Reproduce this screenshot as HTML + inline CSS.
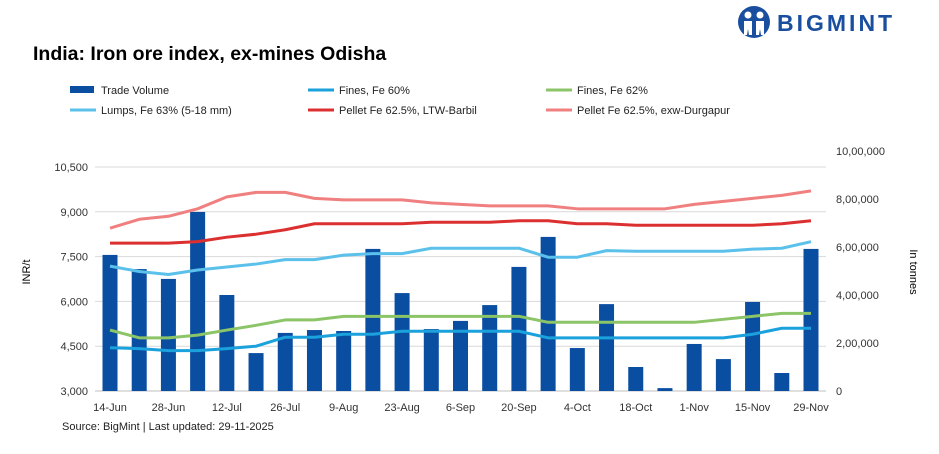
<!DOCTYPE html>
<html><head><meta charset="utf-8"><style>
body{margin:0;width:939px;height:454px;background:#fff;font-family:"Liberation Sans",sans-serif;overflow:hidden}
</style></head><body>
<svg width="939" height="454" style="position:absolute;left:0;top:0">
<g>
<circle cx="754" cy="22" r="16" fill="#1a4fa0"/>
<circle cx="748" cy="15" r="3.5" fill="#fff"/><circle cx="760" cy="15" r="3.5" fill="#fff"/>
<path d="M744 21 h8 v14 h-3 l-1 -6 -1 6 h-3z M756 21 h8 v14 h-3 l-1 -6 -1 6 h-3z" fill="#fff"/>
<text x="777" y="31" font-size="23" font-weight="bold" fill="#1a4fa0" letter-spacing="3">BIGMINT</text>
</g>
<text x="33" y="60" font-size="19.5" font-weight="bold" fill="#000">India: Iron ore index, ex-mines Odisha</text>
<g id="legend" font-size="11" fill="#222"></g>
<g id="grid"></g><g id="bars"></g><g id="lines"></g><g id="axes" font-size="11" fill="#333"></g>
<text x="30" y="272" font-size="11" transform="rotate(-90 30 272)" text-anchor="middle">INR/t</text>
<text x="910" y="272" font-size="11" transform="rotate(90 910 272)" text-anchor="middle">In tonnes</text>
<text x="62" y="430" font-size="11" fill="#222">Source: BigMint | Last updated: 29-11-2025</text>
</svg>
<script>
const categories=["14-Jun","21-Jun","28-Jun","5-Jul","12-Jul","19-Jul","26-Jul","2-Aug","9-Aug","16-Aug","23-Aug","30-Aug","6-Sep","13-Sep","20-Sep","27-Sep","4-Oct","11-Oct","18-Oct","25-Oct","1-Nov","8-Nov","15-Nov","22-Nov","29-Nov"];
const tradeVolume=[567000,508000,467000,746000,400000,158000,242000,254000,250000,592000,408000,258000,292000,358000,517000,642000,179000,362000,100000,12000,196000,133000,371000,75000,592000];
const fines60=[4450,4420,4350,4350,4420,4500,4800,4800,4900,4900,5000,5000,5000,5000,5000,4780,4780,4780,4780,4780,4780,4780,4900,5100,5100];
const fines62=[5040,4780,4780,4870,5040,5200,5380,5380,5500,5500,5500,5500,5500,5500,5500,5300,5300,5300,5300,5300,5300,5400,5500,5600,5600];
const lumps63=[7180,7000,6900,7050,7150,7250,7400,7400,7550,7600,7600,7780,7780,7780,7780,7480,7480,7700,7680,7680,7680,7680,7750,7780,8000];
const pelletBarbil=[7950,7950,7950,8000,8150,8250,8400,8600,8600,8600,8600,8650,8650,8650,8700,8700,8600,8600,8550,8550,8550,8550,8550,8600,8700];
const pelletDurgapur=[8450,8750,8850,9100,9500,9650,9650,9450,9400,9400,9400,9300,9250,9200,9200,9200,9100,9100,9100,9100,9250,9350,9450,9550,9700];
const leftTicks=[3000,4500,6000,7500,9000,10500];
const rightTicks=[0,200000,400000,600000,800000,1000000];
const xTickIdx=[0,2,4,6,8,10,12,14,16,18,20,22,24];
const NS="http://www.w3.org/2000/svg";
const X0=110,X1=811,L=95,R=826,B=391;
const xs=i=>X0+(X1-X0)*i/(categories.length-1);
const yl=v=>B-(v-3000)*224/7500;
const yr=v=>B-v*48/200000;
function mk(t,a,p){const e=document.createElementNS(NS,t);for(const k in a)e.setAttribute(k,a[k]);p.appendChild(e);return e;}
const g=document.getElementById('grid'),bg=document.getElementById('bars'),lg=document.getElementById('lines'),ax=document.getElementById('axes');
leftTicks.forEach(v=>{if(v>3000){const l=mk('line',{x1:L,x2:R,y1:yl(v),y2:yl(v),stroke:'#d9d9d9','stroke-width':1},g);}
const t=mk('text',{x:88,y:yl(v)+4,'text-anchor':'end'},ax);t.textContent=v.toLocaleString('en-US');});
rightTicks.forEach(v=>{const t=mk('text',{x:836,y:yr(v)+4},ax);t.textContent=v.toLocaleString('en-IN');});
const base=mk('line',{x1:L,x2:R,y1:B,y2:B,stroke:'#bfbfbf'},g);
xTickIdx.forEach(i=>{const t=mk('text',{x:xs(i),y:411,'text-anchor':'middle'},ax);t.textContent=categories[i];});
tradeVolume.forEach((v,i)=>{const r=mk('rect',{x:xs(i)-7.5,y:yr(v),width:15,height:B-yr(v),fill:'#0a4ea2'},bg);});
const series=[[pelletDurgapur,'#f08080','pellet-durgapur-line'],[pelletBarbil,'#dc3030','pellet-barbil-line'],[lumps63,'#5bc0ea','lumps-63-line'],[fines62,'#8cc468','fines-62-line'],[fines60,'#1ba1dc','fines-60-line']];
series.forEach(([d,c,n])=>{const p=mk('polyline',{points:d.map((v,i)=>xs(i)+','+yl(v)).join(' '),fill:'none',stroke:c,'stroke-width':3,'stroke-linejoin':'round'},lg);});
const leg=document.getElementById('legend');
const items=[['Trade Volume','bar','#0a4ea2',70,90],['Fines, Fe 60%','line','#1ba1dc',308,90],['Fines, Fe 62%','line','#8cc468',546,90],['Lumps, Fe 63% (5-18 mm)','line','#5bc0ea',70,110],['Pellet Fe 62.5%, LTW-Barbil','line','#dc3030',308,110],['Pellet Fe  62.5%, exw-Durgapur','line','#f08080',546,110]];
items.forEach(([t,k,c,x,y])=>{const gg=mk('g',{},leg);
if(k==='bar')mk('rect',{x:x,y:y-4,width:24,height:7,fill:c},gg);else mk('line',{x1:x,x2:x+26,y1:y,y2:y,stroke:c,'stroke-width':3},gg);
const tt=mk('text',{x:x+31,y:y+4},gg);tt.textContent=t;});
</script>
</body></html>
